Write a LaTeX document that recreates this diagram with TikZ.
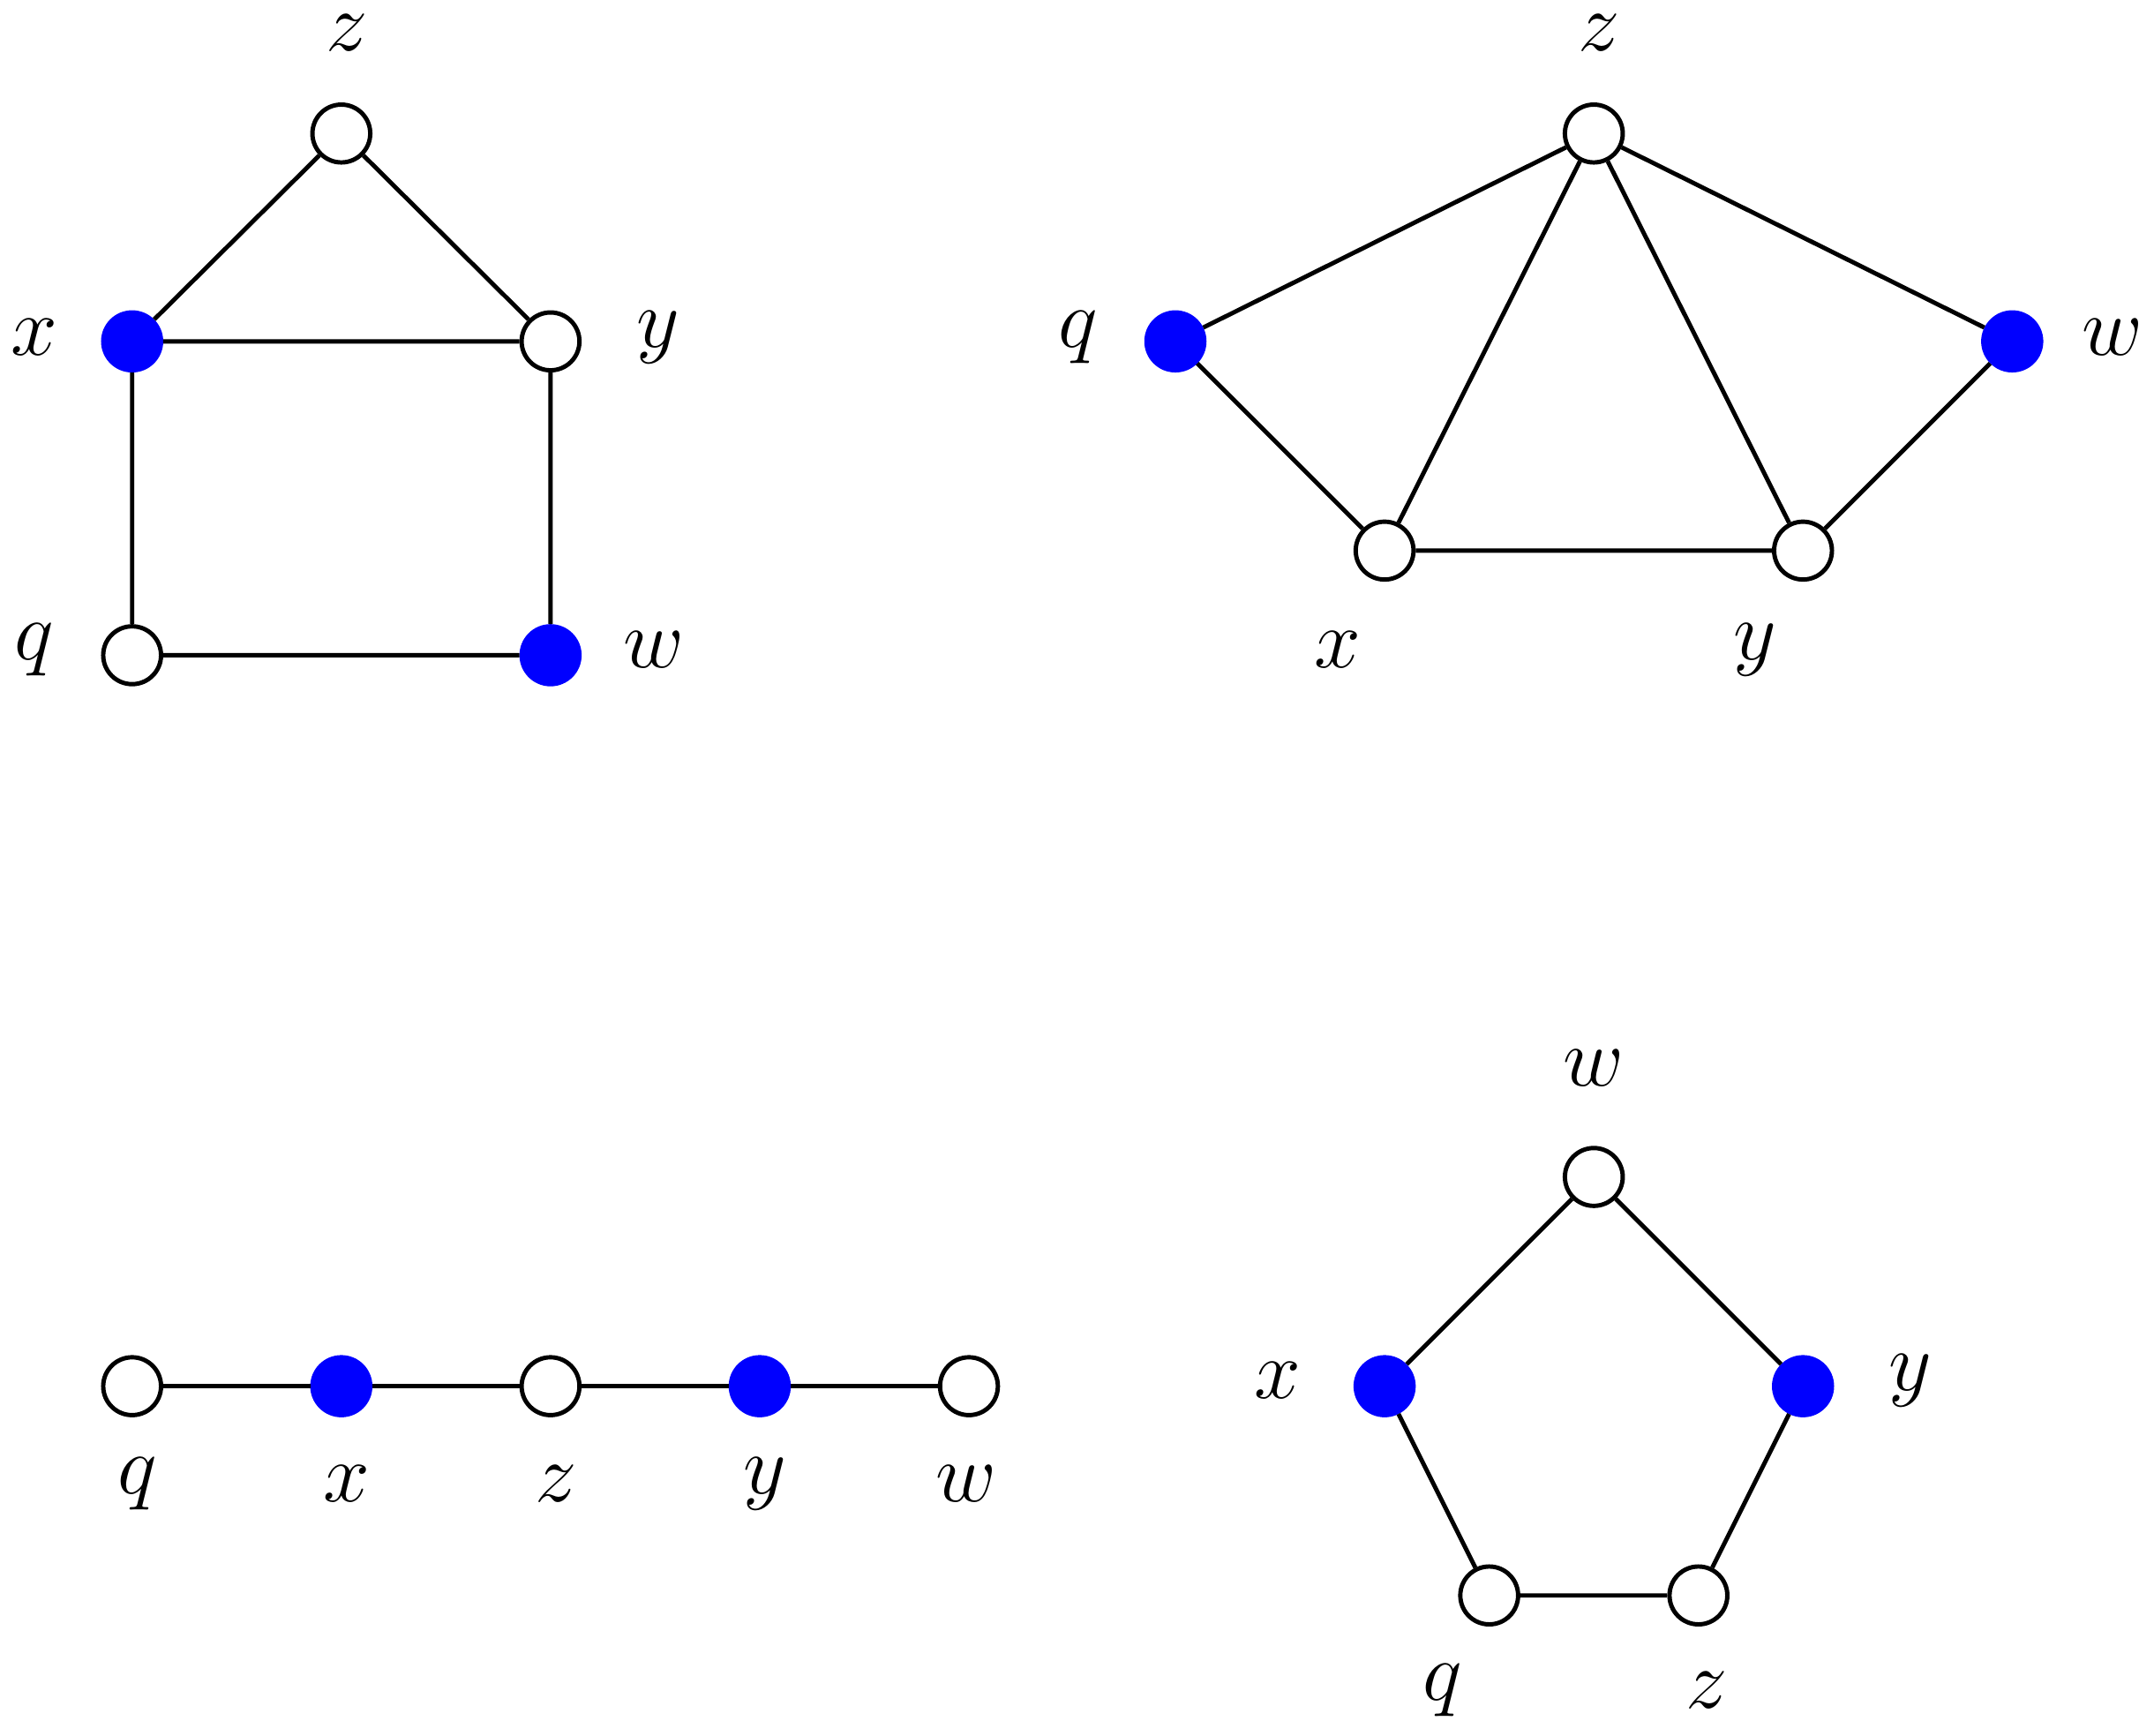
\documentclass[tikz,border=0pt]{standalone}
\begin{document}
\begin{tikzpicture}[x=0.01cm,y=-0.01cm,
  v/.style={circle,draw,line width=0.9pt,minimum size=0.42cm,inner sep=0pt,fill=white},
  b/.style={v,fill=blue,draw=blue},
  lab/.style={font=\fontsize{18}{22}\selectfont,inner sep=0pt},
  e/.style={line width=0.9pt}]
\useasboundingbox (0,0) rectangle (1565,1261);
% graph 1
\node[v] (a1) at (248,97) {}; \node[b] (a2) at (96,248) {}; \node[v] (a3) at (400,248) {};
\node[v] (a4) at (96,476) {}; \node[b] (a5) at (400,476) {};
\node[lab] (la1) at (252,24) {$z$}; \node[lab] (la2) at (25,245) {$x$}; \node[lab] (la3) at (478,245) {$y$};
\node[lab] (la4) at (25,472) {$q$}; \node[lab] (la5) at (475,472) {$w$};
\draw[e] (a1)--(a2) (a1)--(a3) (a2)--(a3) (a2)--(a4) (a3)--(a5) (a4)--(a5);
% graph 2
\node[v] (b1) at (1158,97) {}; \node[b] (b2) at (854,248) {}; \node[b] (b3) at (1462,248) {};
\node[v] (b4) at (1006,400) {}; \node[v] (b5) at (1310,400) {};
\node[lab] (lb1) at (1162,24) {$z$}; \node[lab] (lb2) at (783,245) {$q$}; \node[lab] (lb3) at (1535,245) {$w$};
\node[lab] (lb4) at (972,472) {$x$}; \node[lab] (lb5) at (1275,472) {$y$};
\draw[e] (b1)--(b2) (b1)--(b3) (b1)--(b4) (b1)--(b5) (b2)--(b4) (b3)--(b5) (b4)--(b5);
% graph 3
\node[v] (c1) at (96,1007) {}; \node[b] (c2) at (248,1007) {}; \node[v] (c3) at (400,1007) {};
\node[b] (c4) at (552,1007) {}; \node[v] (c5) at (704,1007) {};
\node[lab] (lc1) at (100,1078) {$q$}; \node[lab] (lc2) at (252,1078) {$x$}; \node[lab] (lc3) at (404,1078) {$z$};
\node[lab] (lc4) at (556,1078) {$y$}; \node[lab] (lc5) at (702,1078) {$w$};
\draw[e] (c1)--(c2)--(c3)--(c4)--(c5);
% graph 4
\node[v] (d1) at (1158,855) {}; \node[b] (d2) at (1006,1007) {}; \node[b] (d3) at (1310,1007) {};
\node[v] (d4) at (1082,1159) {}; \node[v] (d5) at (1234,1159) {};
\node[lab] (ld1) at (1158,776) {$w$}; \node[lab] (ld2) at (928,1003) {$x$}; \node[lab] (ld3) at (1388,1003) {$y$};
\node[lab] (ld4) at (1048,1228) {$q$}; \node[lab] (ld5) at (1240,1228) {$z$};
\draw[e] (d1)--(d2) (d1)--(d3) (d2)--(d4) (d3)--(d5) (d4)--(d5);
\end{tikzpicture}
\end{document}
